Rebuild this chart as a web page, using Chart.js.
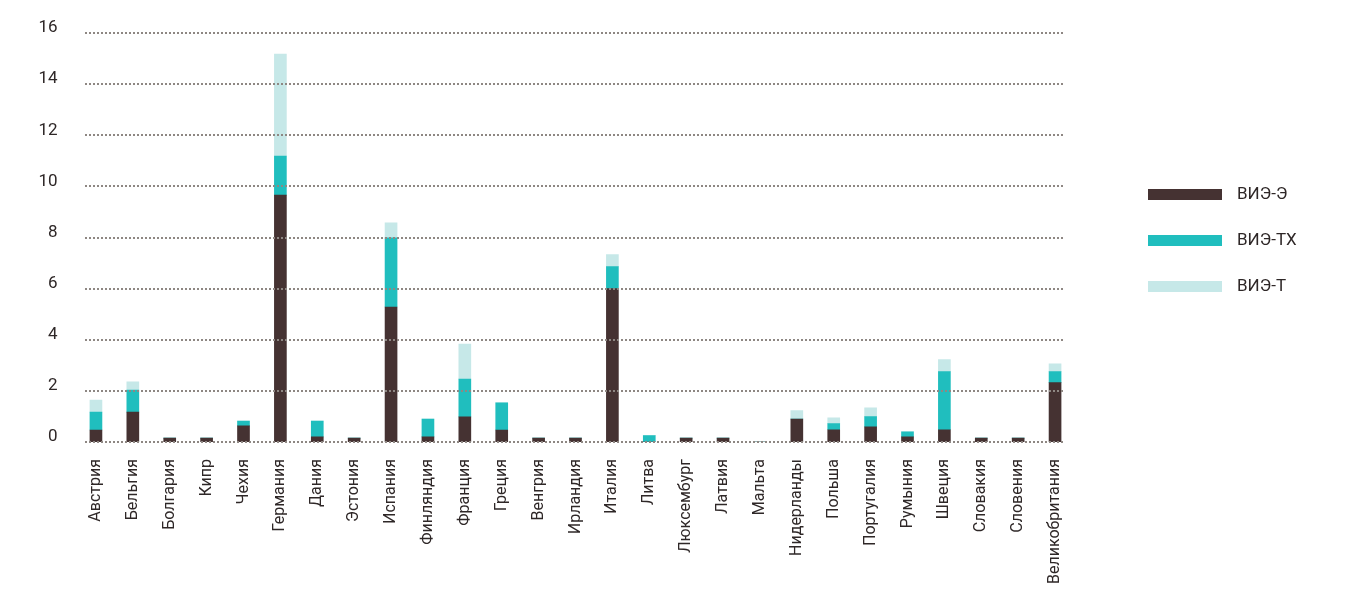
<!DOCTYPE html>
<html>
<head>
<meta charset="utf-8">
<script src="https://cdn.jsdelivr.net/npm/chart.js@4"></script>
<style>
  html, body { margin: 0; padding: 0; background: #fff; }
  #wrap { width: 1359px; height: 603px; position: relative; }
</style>
</head>
<body>
<div id="wrap"><canvas id="vieChart"></canvas></div>
<script>
// Countries (x axis)
const countries = ['Австрия', 'Бельгия', 'Болгария', 'Кипр', 'Чехия', 'Германия', 'Дания', 'Эстония',
    'Испания', 'Финляндия', 'Франция', 'Греция', 'Венгрия', 'Ирландия', 'Италия', 'Литва',
    'Люксембург', 'Латвия', 'Мальта', 'Нидерланды', 'Польша', 'Португалия', 'Румыния', 'Швеция',
    'Словакия', 'Словения', 'Великобритания'];

// Series values
const vieE  = [0.47, 1.17, 0.15, 0.15, 0.63, 9.66, 0.2, 0.15, 5.28, 0.2, 0.98, 0.47, 0.15, 0.15, 6.0, 0,
    0.15, 0.15, 0, 0.9, 0.48, 0.59, 0.2, 0.48, 0.15, 0.15, 2.32];
const vieTX = [0.7, 0.86, 0, 0, 0.19, 1.53, 0.62, 0, 2.71, 0.7, 1.48, 1.06, 0, 0, 0.86, 0.25,
    0, 0, 0, 0, 0.24, 0.4, 0.2, 2.27, 0, 0, 0.43];
const vieT  = [0.47, 0.32, 0, 0, 0, 3.99, 0, 0, 0.58, 0, 1.37, 0, 0, 0, 0.47, 0,
    0, 0, 0, 0.33, 0.23, 0.35, 0, 0.47, 0, 0, 0.31];

const seriesNames = ['ВИЭ-Э', 'ВИЭ-ТХ', 'ВИЭ-Т'];
const seriesColors = ['#453232', '#20bebe', '#c6e8e8'];

// y axis ticks
const yMin = 0, yMax = 16, yStep = 2;

const textColor = '#2e2727';
const fontFamily = 'Roboto, "Noto Sans", sans-serif';

// dotted horizontal grid, drawn over the bars
const dottedGrid = {
    id: 'dottedGrid',
    afterDatasetsDraw(chart) {
        const { ctx, chartArea } = chart;
        const y = chart.scales.y;
        ctx.save();
        ctx.strokeStyle = '#8e8783';
        ctx.lineWidth = 2;
        ctx.setLineDash([2, 2]);
        y.ticks.forEach(t => {
            const py = Math.round(y.getPixelForValue(t.value));
            ctx.beginPath();
            ctx.moveTo(chartArea.left + 7.5, py);
            ctx.lineTo(chartArea.right - 10, py);
            ctx.stroke();
        });
        ctx.restore();
    }
};

// legend on the right: long flat boxes with labels
const sideLegend = {
    id: 'sideLegend',
    afterDraw(chart) {
        const { ctx } = chart;
        ctx.save();
        ctx.font = '17px ' + fontFamily;
        ctx.textBaseline = 'middle';
        chart.data.datasets.forEach((ds, i) => {
            const cy = 194.5 + i * 46;
            ctx.fillStyle = ds.backgroundColor;
            ctx.fillRect(1148, cy - 5.5, 74, 11);
            ctx.fillStyle = textColor;
            ctx.fillText(ds.label, 1237, cy);
        });
        ctx.restore();
    }
};

const ctx = document.getElementById('vieChart').getContext('2d');
const vieChart = new Chart(ctx, {
    type: 'bar',
    data: {
        labels: countries,
        datasets: [vieE, vieTX, vieT].map((values, i) => ({
            label: seriesNames[i],
            data: values,
            backgroundColor: seriesColors[i],
            borderWidth: 0,
            barThickness: 12
        }))
    },
    options: {
        responsive: true,
        maintainAspectRatio: false,
        animation: false,
        layout: { padding: { top: 33, right: 285.5, bottom: 0, left: 0 } },
        plugins: {
            legend: { display: false },
            tooltip: { enabled: false }
        },
        scales: {
            x: {
                stacked: true,
                grid: { display: false, drawTicks: false },
                border: { display: false },
                ticks: {
                    autoSkip: false,
                    minRotation: 90,
                    maxRotation: 90,
                    padding: 17,
                    color: textColor,
                    font: { family: fontFamily, size: 16 }
                },
                afterFit(scale) { scale.height = 161; }
            },
            y: {
                stacked: true,
                min: yMin,
                max: yMax,
                grid: { display: false, drawTicks: false },
                border: { display: false },
                ticks: {
                    stepSize: yStep,
                    padding: 20,
                    labelOffset: -5,
                    color: textColor,
                    font: { family: fontFamily, size: 17 }
                },
                afterFit(scale) { scale.width = 77.5; }
            }
        }
    },
    plugins: [dottedGrid, sideLegend]
});
</script>
</body>
</html>
